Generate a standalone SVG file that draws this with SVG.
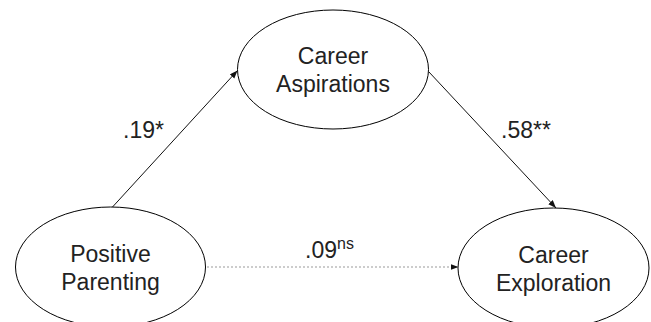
<svg xmlns="http://www.w3.org/2000/svg" width="651" height="322" viewBox="0 0 651 322">
<style>
.node ellipse{fill:#fff;stroke:#000;stroke-width:1}
.lbl{font-family:"Liberation Sans",Arial,sans-serif;font-size:23px;fill:#222;text-anchor:middle}
.coef{font-family:"Liberation Sans",Arial,sans-serif;font-size:23px;fill:#222}
.edge{stroke:#111;stroke-width:1;fill:none}
.dot{stroke:#999;stroke-width:1.2;stroke-dasharray:2 2;fill:none}
</style>
<defs>
<marker id="ah" markerUnits="userSpaceOnUse" markerWidth="9" markerHeight="7" refX="8" refY="3" orient="auto">
<path d="M0,0 L8,3 L0,6 z" fill="#111"/>
</marker>
</defs>
<rect width="651" height="322" fill="#fff"/>
<g id="connectors">
<line class="edge" x1="112.5" y1="207" x2="237.5" y2="70.5" marker-end="url(#ah)"/>
<line class="edge" x1="429" y1="72" x2="556" y2="208" marker-end="url(#ah)"/>
<line class="dot" x1="207" y1="267" x2="458.5" y2="267" marker-end="url(#ah)"/>
<text class="coef" x="123" y="138">.19*</text>
<text class="coef" x="501" y="138">.58**</text>
<text class="coef" x="305" y="258">.09<tspan font-size="16" dy="-9">ns</tspan></text>
</g>
<g id="career-aspirations" class="node">
<ellipse cx="333" cy="69.5" rx="95.5" ry="59.5"/>
<text class="lbl" x="333" y="64">Career</text>
<text class="lbl" x="333" y="92">Aspirations</text>
</g>
<g id="positive-parenting" class="node">
<ellipse cx="110.5" cy="267" rx="95" ry="60"/>
<text class="lbl" x="110.5" y="262">Positive</text>
<text class="lbl" x="110.5" y="290">Parenting</text>
</g>
<g id="career-exploration" class="node">
<ellipse cx="553.5" cy="268" rx="95.5" ry="60"/>
<text class="lbl" x="553.5" y="262.5">Career</text>
<text class="lbl" x="553.5" y="291">Exploration</text>
</g>
</svg>
